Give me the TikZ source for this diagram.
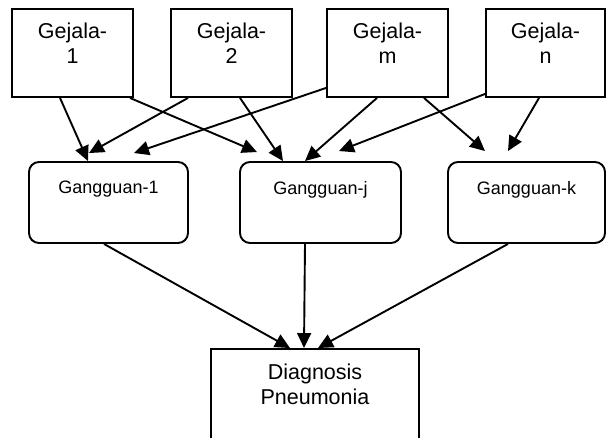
\documentclass[tikz,border=0pt]{standalone}
\usepackage{fontspec}
\setmainfont{Liberation Sans}
\usetikzlibrary{arrows.meta}
\tikzset{
 gejala/.style={draw, line width=1.9pt, minimum width=121pt, minimum height=88pt, inner sep=0pt},
 gangguan/.style={draw, line width=1.9pt, rounded corners=10pt, minimum height=81pt, inner sep=0pt},
 teks/.style={align=center, inner sep=0pt, anchor=north},
 panah/.style={-{Triangle[length=15pt,width=14pt]}, line width=1.9pt},
}
\newcommand{\hurufgejala}{\fontsize{21.5pt}{25pt}\selectfont}
\newcommand{\hurufgangguan}{\fontsize{18pt}{21pt}\selectfont}
\begin{document}
\begin{tikzpicture}[x=1pt,y=-1pt]
 \useasboundingbox (0,0) rectangle (606,438);
 \node[gejala, label={[teks, font=\hurufgejala, yshift=-15pt]north:Gejala-\\1}] (g1) at (72.5,53) {};
 \node[gejala, label={[teks, font=\hurufgejala, yshift=-15pt]north:Gejala-\\2}] (g2) at (231.5,53) {};
 \node[gejala, label={[teks, font=\hurufgejala, yshift=-15pt]north:Gejala-\\m}] (gm) at (387.5,53) {};
 \node[gejala, minimum width=119pt, label={[teks, font=\hurufgejala, yshift=-15pt]north:Gejala-\\n}] (gn) at (545.5,53) {};
 \node[gangguan, minimum width=159pt, label={[teks, font=\hurufgangguan, yshift=-20pt]north:Gangguan-1}] (k1) at (108.5,202.5) {};
 \node[gangguan, minimum width=161pt, label={[teks, font=\hurufgangguan, yshift=-20pt]north:Gangguan-j}] (kj) at (320.5,202.5) {};
 \node[gangguan, minimum width=157pt, label={[teks, font=\hurufgangguan, yshift=-20pt]north:Gangguan-k}] (kk) at (526.5,202.5) {};
 \node[draw, line width=1.9pt, minimum width=208pt, minimum height=110pt, inner sep=0pt, label={[teks, font=\hurufgejala, yshift=-16pt]north:Diagnosis\\Pneumonia}] (d) at (315,404) {};
 \draw[panah] ([xshift=-12.5pt]g1.south) -- ([xshift=-20.5pt]k1.north);
 \draw[panah] ([xshift=57.5pt]g1.south) -- ([xshift=-63.5pt,yshift=9pt]kj.north);
 \draw[panah] ([xshift=-43.5pt]g2.south) -- ([xshift=-19.5pt,yshift=8pt]k1.north);
 \draw[panah] ([xshift=8.5pt]g2.south) -- ([xshift=-37.5pt]kj.north);
 \draw[panah] ([yshift=10pt]gm.south west) -- ([xshift=25.5pt,yshift=8pt]k1.north);
 \draw[panah] ([xshift=-10.5pt]gm.south) -- ([xshift=-15.5pt]kj.north);
 \draw[panah] ([xshift=36.5pt]gm.south) -- ([xshift=-41.5pt,yshift=10pt]kk.north);
 \draw[panah] ([yshift=4pt]gn.south west) -- ([xshift=18.5pt,yshift=10pt]kj.north);
 \draw[panah] ([xshift=-6.5pt]gn.south) -- ([xshift=-18.5pt,yshift=10pt]kk.north);
 \draw[panah] ([xshift=-4.5pt]k1.south) -- ([xshift=-25pt]d.north);
 \draw[panah] ([xshift=-15.5pt]kj.south) -- ([xshift=-11pt]d.north);
 \draw[panah] ([xshift=-18.5pt]kk.south) -- ([xshift=3pt]d.north);
\end{tikzpicture}
\end{document}
